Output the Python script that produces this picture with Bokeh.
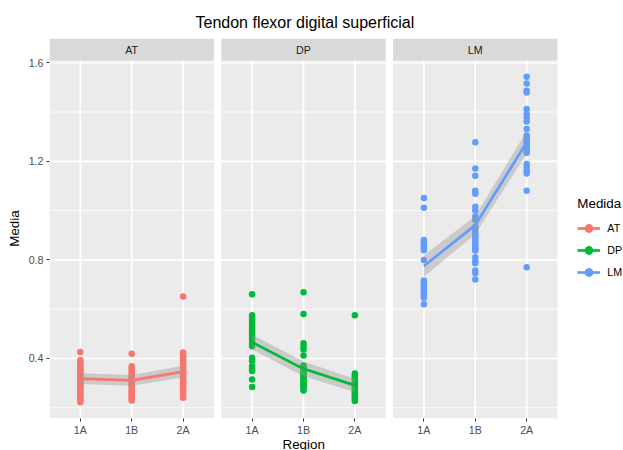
from bokeh.plotting import figure
from bokeh.models import Range1d, FixedTicker, Legend, LegendItem, Title
from bokeh.embed import file_html
from bokeh.resources import INLINE
from bokeh.core.properties import value

# ---------------- data ----------------
medidas = ["AT", "DP", "LM"]
regions = ["1A", "1B", "2A"]
colors = ["#F8766D", "#00BA38", "#619CFF"]

at_1a = [0.426, 0.393, 0.386, 0.379, 0.372, 0.365, 0.358, 0.351, 0.344, 0.338, 0.332, 0.326,
         0.320, 0.314, 0.308, 0.302, 0.296, 0.290, 0.284, 0.278, 0.271, 0.264, 0.257, 0.250,
         0.243, 0.236, 0.229, 0.222]
at_1b = [0.419, 0.369, 0.360, 0.352, 0.345, 0.338, 0.331, 0.324, 0.318, 0.312, 0.306, 0.300,
         0.294, 0.288, 0.282, 0.276, 0.269, 0.262, 0.255, 0.248, 0.241, 0.234, 0.230]
at_2a = [0.651, 0.424, 0.416, 0.407, 0.398, 0.389, 0.380, 0.372, 0.364, 0.356, 0.348, 0.341,
         0.334, 0.327, 0.320, 0.312, 0.304, 0.296, 0.288, 0.278, 0.268, 0.258, 0.249, 0.241]
dp_1a = [0.661, 0.575, 0.566, 0.557, 0.548, 0.539, 0.530, 0.521, 0.512, 0.503, 0.494, 0.485,
         0.476, 0.467, 0.458, 0.450, 0.403, 0.391, 0.368, 0.358, 0.349, 0.315, 0.284]
dp_1b = [0.669, 0.580, 0.462, 0.450, 0.436, 0.412, 0.372, 0.366, 0.360, 0.354, 0.348, 0.342,
         0.336, 0.330, 0.324, 0.318, 0.312, 0.306, 0.300, 0.294, 0.288, 0.282, 0.276, 0.270]
dp_2a = [0.575, 0.339, 0.332, 0.325, 0.318, 0.311, 0.304, 0.297, 0.290, 0.283, 0.276, 0.269,
         0.262, 0.255, 0.248, 0.241, 0.234, 0.228]
lm_1a = [1.051, 1.012, 0.881, 0.874, 0.867, 0.860, 0.853, 0.846, 0.839, 0.800, 0.716, 0.709,
         0.702, 0.695, 0.688, 0.681, 0.674, 0.667, 0.660, 0.653, 0.646, 0.620]
lm_1b = [1.277, 1.171, 1.141, 1.081, 1.068, 1.016, 1.000, 0.976, 0.962, 0.935, 0.926, 0.917,
         0.908, 0.899, 0.890, 0.881, 0.872, 0.863, 0.854, 0.845, 0.838, 0.811, 0.794, 0.786,
         0.757, 0.746, 0.720]
lm_2a = [1.543, 1.516, 1.486, 1.479, 1.412, 1.392, 1.378, 1.362, 1.331, 1.305, 1.296, 1.287,
         1.278, 1.269, 1.260, 1.251, 1.243, 1.235, 1.189, 1.175, 1.162, 1.151, 1.081, 0.770]

points = {"AT": [at_1a, at_1b, at_2a],
          "DP": [dp_1a, dp_1b, dp_2a],
          "LM": [lm_1a, lm_1b, lm_2a]}

mean_at = [0.318, 0.311, 0.347]
mean_dp = [0.466, 0.358, 0.291]
mean_lm = [0.775, 0.941, 1.277]
ci_at = [0.022, 0.022, 0.024]
ci_dp = [0.030, 0.030, 0.027]
ci_lm = [0.043, 0.037, 0.046]
means = {"AT": mean_at, "DP": mean_dp, "LM": mean_lm}
cis = {"AT": ci_at, "DP": ci_dp, "LM": ci_lm}

y_major = [0.4, 0.8, 1.2, 1.6]
y_minor = [0.2, 0.6, 1.0, 1.4]

title_text = "Tendon flexor digital superficial"
x_title = "Region"
y_title = "Media"
legend_title = "Medida"

# ---------------- layout constants ----------------
FONT = "Liberation Sans"
Y_LO, Y_TOP, Y_STRIP = 0.1565, 1.609, 1.6983
EXP = 0.6
GAP = 0.143
PW = len(regions) - 1 + 2 * EXP
X_MAX = len(medidas) * PW + (len(medidas) - 1) * GAP
PANEL_PX = 508          # width of the three facet panels
FRAME_PX = 623 - 49     # frame reaches the right edge (legend lives inside it)
X_END = X_MAX * FRAME_PX / PANEL_PX


def xpos(k, j):
    return round(k * (PW + GAP) + EXP + j, 4)


p = figure(width=623, height=450, output_backend="svg", toolbar_location=None,
           x_range=Range1d(0, X_END), y_range=Range1d(Y_LO, Y_STRIP),
           min_border_left=49, min_border_right=0, min_border_top=38, min_border_bottom=32)
p.xgrid.visible = False
p.ygrid.visible = False
p.outline_line_color = None
p.background_fill_color = "white"
p.border_fill_color = "white"

key_bg = p.varea(x=[], y1=[], y2=[], fill_color="#CBCBCB", fill_alpha=1.0)
items = []
tick_pos = []
tick_lab = {}

for k, m in enumerate(medidas):
    x0 = k * (PW + GAP)
    x1 = x0 + PW
    p.quad(left=[x0], right=[x1], bottom=[Y_LO], top=[Y_TOP], fill_color="#EBEBEB", line_color=None)
    p.quad(left=[x0], right=[x1], bottom=[Y_TOP], top=[Y_STRIP], fill_color="#D9D9D9", line_color=None)
    p.segment(x0=[x0] * len(y_minor), x1=[x1] * len(y_minor), y0=y_minor, y1=y_minor,
              line_color="white", line_width=0.85)
    p.segment(x0=[x0] * len(y_major), x1=[x1] * len(y_major), y0=y_major, y1=y_major,
              line_color="white", line_width=1.7)
    xs = [xpos(k, j) for j in range(len(regions))]
    p.segment(x0=xs, x1=xs, y0=[Y_LO] * len(xs), y1=[Y_TOP] * len(xs),
              line_color="white", line_width=1.7)
    p.text(x=[(x0 + x1) / 2], y=[(Y_TOP + Y_STRIP) / 2], text=[m], text_align="center",
           text_baseline="middle", text_font=value(FONT), text_font_size="10.7px",
           text_color="#1A1A1A")
    for j, r in enumerate(regions):
        tick_pos.append(xs[j])
        tick_lab[xs[j]] = r

    px, py = [], []
    for j, vals in enumerate(points[m]):
        px += [xs[j]] * len(vals)
        py += vals
    sc = p.scatter(px, py, size=6.5, fill_color=colors[k], line_color=None)
    lo = [a - b for a, b in zip(means[m], cis[m])]
    hi = [a + b for a, b in zip(means[m], cis[m])]
    p.varea(x=xs, y1=lo, y2=hi, fill_color="#999999", fill_alpha=0.4)
    ln = p.line(xs, means[m], line_color=colors[k], line_width=2.7)
    items.append(LegendItem(label=m, renderers=[key_bg, ln, sc]))

# axes
xa = p.xaxis[0]
xa.ticker = FixedTicker(ticks=tick_pos)
xa.major_label_overrides = tick_lab
xa.axis_line_color = None
xa.major_tick_line_color = "#333333"
xa.major_tick_out = 3
xa.major_tick_in = 0
xa.minor_tick_line_color = None
xa.major_label_standoff = 2
xa.major_label_text_font = FONT
xa.major_label_text_font_size = "10.7px"
xa.major_label_text_color = "#4D4D4D"

ya = p.yaxis[0]
ya.ticker = FixedTicker(ticks=y_major)
ya.axis_line_color = None
ya.major_tick_line_color = "#333333"
ya.major_tick_out = 3
ya.major_tick_in = 0
ya.minor_tick_line_color = None
ya.major_label_standoff = 3
ya.major_label_text_font = FONT
ya.major_label_text_font_size = "10.7px"
ya.major_label_text_color = "#4D4D4D"
ya.axis_label = y_title
ya.axis_label_text_font = FONT
ya.axis_label_text_font_size = "13.4px"
ya.axis_label_text_font_style = "normal"
ya.axis_label_text_color = "black"
ya.axis_label_standoff = 4

# title and x title (left-aligned with offsets so they centre over the panels)
p.title.text = title_text
p.title.align = "left"
p.title.offset = 146
p.title.text_font = FONT
p.title.text_font_size = "16px"
p.title.text_font_style = "normal"
p.title.text_color = "black"
p.title.standoff = 15

p.add_layout(Title(text=x_title, align="left", offset=233, text_font=FONT,
                   text_font_size="13.4px", text_font_style="normal", text_color="black",
                   standoff=-7), "below")

legend = Legend(items=items, location=(528.3, 134.7), title=legend_title,
                title_text_font=FONT, title_text_font_size="13.4px",
                title_text_font_style="normal", title_text_color="black", title_standoff=6,
                label_text_font=FONT, label_text_font_size="10.7px", label_text_color="black",
                label_standoff=7, label_height=22, glyph_width=23, glyph_height=22,
                spacing=0, padding=0, margin=0, border_line_color=None,
                background_fill_alpha=0)
p.add_layout(legend)

open("out.html", "w").write(file_html(p, INLINE))
